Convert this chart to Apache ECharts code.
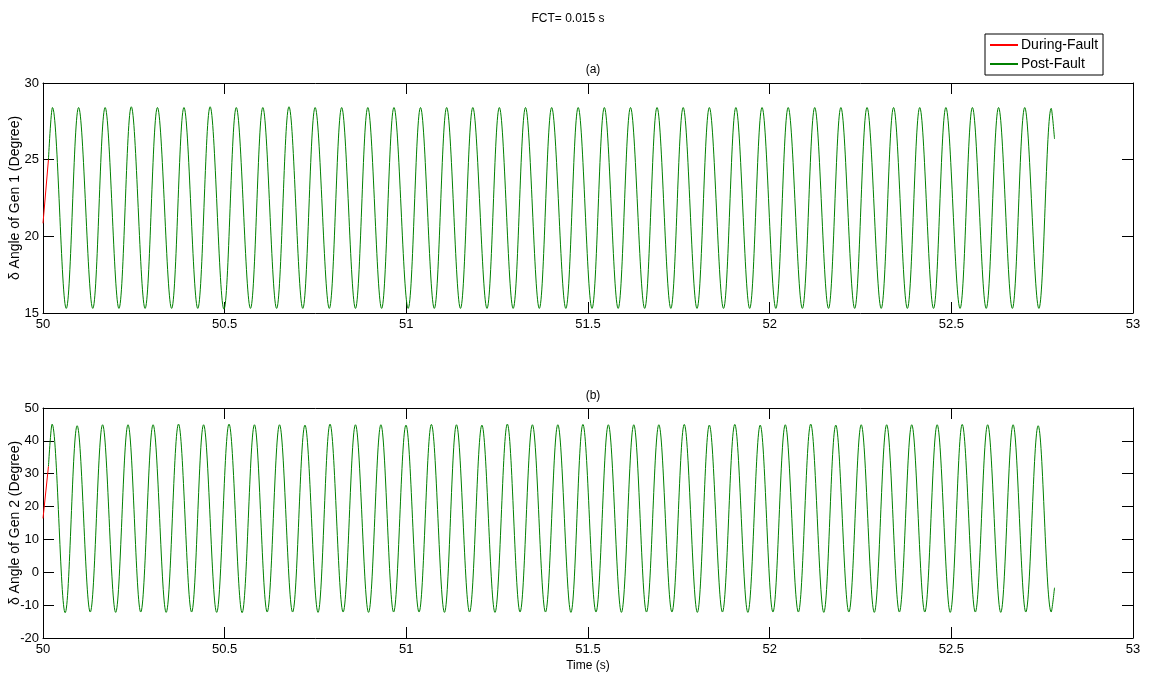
<!DOCTYPE html>
<html>
<head>
<meta charset="utf-8">
<script src="https://cdn.jsdelivr.net/npm/echarts@6/dist/echarts.min.js"></script>
<style>
html,body{margin:0;padding:0;background:#fff;}
#chart{width:1149px;height:680px;}
</style>
</head>
<body>
<div id="chart"></div>
<script>
// ---------- data ----------
var xTicks = [50, 50.5, 51, 51.5, 52, 52.5, 53];

// Gen 1, during fault
var gen1FaultT = [50.000, 50.015];
var gen1FaultV = [20.85, 25.0];
// Gen 1, post fault: start, peaks, troughs, end
var gen1PostStart = [50.015, 25.0];
var gen1PostEnd = [52.784, 26.35];
var gen1PeakT = [50.026,50.098,50.171,50.243,50.315,50.388,50.460,50.532,50.605,50.677,
  50.749,50.822,50.894,50.966,51.039,51.111,51.183,51.256,51.328,51.400,
  51.473,51.545,51.617,51.690,51.762,51.834,51.907,51.979,52.051,52.124,
  52.196,52.268,52.341,52.413,52.485,52.558,52.630,52.702,52.775];
var gen1PeakV = [28.4,28.4,28.4,28.45,28.4,28.4,28.45,28.4,28.4,28.45,
  28.4,28.4,28.4,28.4,28.4,28.4,28.4,28.4,28.4,28.4,
  28.4,28.4,28.4,28.4,28.4,28.4,28.4,28.4,28.4,28.4,
  28.4,28.4,28.4,28.4,28.4,28.4,28.4,28.4,28.35];
var gen1TroughT = [50.064,50.137,50.209,50.281,50.354,50.426,50.498,50.571,50.643,50.715,
  50.788,50.860,50.932,51.005,51.077,51.149,51.222,51.294,51.366,51.439,
  51.511,51.583,51.656,51.728,51.800,51.873,51.945,52.017,52.090,52.162,
  52.234,52.307,52.379,52.451,52.524,52.596,52.668,52.741];
var gen1TroughV = [15.3,15.3,15.3,15.3,15.3,15.3,15.25,15.3,15.3,15.3,
  15.3,15.3,15.3,15.3,15.3,15.3,15.3,15.3,15.3,15.3,
  15.3,15.3,15.3,15.3,15.3,15.3,15.3,15.3,15.3,15.3,
  15.3,15.3,15.3,15.3,15.3,15.3,15.3,15.3];

// Gen 2, during fault
var gen2FaultT = [50.000, 50.015];
var gen2FaultV = [16.4, 32.2];
// Gen 2, post fault
var gen2PostStart = [50.015, 32.2];
var gen2PostEnd = [52.784, -4.7];
var gen2PeakT = [50.025,50.094,50.164,50.234,50.303,50.373,50.442,50.512,50.582,50.651,
  50.721,50.790,50.860,50.930,50.999,51.069,51.138,51.208,51.278,51.347,
  51.417,51.486,51.556,51.626,51.695,51.765,51.834,51.904,51.974,52.043,
  52.113,52.182,52.252,52.322,52.391,52.461,52.530,52.600,52.670,52.739];
var gen2PeakV = [45.1,44.6,44.9,44.9,44.9,45.1,44.9,45.1,44.9,44.9,
  44.8,45.1,44.9,44.9,44.8,45.0,44.9,44.8,45.1,44.9,
  44.9,45.0,44.9,44.9,44.9,45.0,44.8,45.0,44.8,44.9,
  45.1,44.8,44.9,44.9,44.9,44.9,45.0,44.9,44.9,44.6];
var gen2TroughT = [50.061,50.130,50.200,50.269,50.339,50.409,50.478,50.548,50.617,50.687,
  50.757,50.826,50.896,50.965,51.035,51.105,51.174,51.244,51.313,51.383,
  51.453,51.522,51.592,51.661,51.731,51.801,51.870,51.940,52.009,52.079,
  52.149,52.218,52.288,52.357,52.427,52.497,52.566,52.636,52.705,52.775];
var gen2TroughV = [-12.3,-12.1,-12.2,-12.1,-12.2,-12.1,-12.2,-12.3,-12.1,-12.1,
  -12.2,-12.1,-12.2,-12.1,-12.1,-12.2,-12.1,-12.2,-12.1,-12.1,
  -12.2,-12.1,-12.2,-12.1,-12.1,-12.2,-12.1,-12.2,-12.1,-12.1,
  -12.2,-12.1,-12.2,-12.1,-12.1,-12.2,-12.1,-12.2,-12.1,-12.1];

// ---------- build series tables ----------
function pairs(t, v) { return t.map(function (x, i) { return [x, v[i]]; }); }
function postSeries(start, pt, pv, tt, tv, end) {
  var pts = pairs(pt, pv).concat(pairs(tt, tv));
  pts.sort(function (a, b) { return a[0] - b[0]; });
  return [start].concat(pts).concat([end]);
}
var gen1Post = postSeries(gen1PostStart, gen1PeakT, gen1PeakV, gen1TroughT, gen1TroughV, gen1PostEnd);
var gen2Post = postSeries(gen2PostStart, gen2PeakT, gen2PeakV, gen2TroughT, gen2TroughV, gen2PostEnd);

var FONT = 'Liberation Sans, Arial, sans-serif';
var RED = '#ff0000', GREEN = '#008000';

function xAx(grid, pos, withLabels, name) {
  return {
    type: 'value', gridIndex: grid, position: pos, min: 50, max: 53, interval: 0.5,
    axisLine: { show: true, onZero: false, lineStyle: { color: '#000', width: 1 } },
    axisTick: { show: true, inside: true, length: 11, lineStyle: { color: '#000' } },
    axisLabel: { show: withLabels, color: '#000', fontFamily: FONT, fontSize: 13, margin: 5,
      formatter: function (v) { return String(+v.toFixed(1)); } },
    splitLine: { show: false },
    name: name || '', nameLocation: 'middle', nameGap: 22, nameMoveOverlap: false,
    nameTextStyle: { color: '#000', fontFamily: FONT, fontSize: 12 }
  };
}
function yAx(grid, pos, withLabels, min, max, interval, name) {
  return {
    type: 'value', gridIndex: grid, position: pos, min: min, max: max, interval: interval,
    axisLine: { show: true, onZero: false, lineStyle: { color: '#000', width: 1 } },
    axisTick: { show: true, inside: true, length: 11, lineStyle: { color: '#000' } },
    axisLabel: { show: withLabels, color: '#000', fontFamily: FONT, fontSize: 13, margin: 4 },
    splitLine: { show: false },
    name: name || '', nameLocation: 'middle', nameGap: 21, nameMoveOverlap: false,
    nameTextStyle: { color: '#000', fontFamily: FONT, fontSize: 14 }
  };
}

var chart = echarts.init(document.getElementById('chart'), null, { renderer: 'canvas' });
chart.setOption({
  backgroundColor: '#fff',
  animation: false,
  title: [
    { text: 'FCT= 0.015 s', left: 563, top: 8, textAlign: 'center',
      textStyle: { fontFamily: FONT, fontSize: 12, fontWeight: 'normal', color: '#000' } },
    { text: '(a)', left: 588, top: 59, textAlign: 'center',
      textStyle: { fontFamily: FONT, fontSize: 12, fontWeight: 'normal', color: '#000' } },
    { text: '(b)', left: 588, top: 385, textAlign: 'center',
      textStyle: { fontFamily: FONT, fontSize: 12, fontWeight: 'normal', color: '#000' } }
  ],
  legend: {
    data: ['During-Fault', 'Post-Fault'],
    orient: 'vertical', left: 985, top: 34,
    backgroundColor: '#fff', borderColor: '#000', borderWidth: 1,
    padding: [4, 5, 4, 5], itemGap: 5, itemWidth: 28, itemHeight: 2,
    icon: 'rect',
    textStyle: { fontFamily: FONT, fontSize: 14, color: '#000', padding: [0, 0, 0, -2] }
  },
  grid: [
    { left: 43, right: 16, top: 83, height: 230, show: false, containLabel: false, outerBoundsMode: 'none' },
    { left: 43, right: 16, top: 408, height: 230, show: false, containLabel: false, outerBoundsMode: 'none' }
  ],
  xAxis: [
    xAx(0, 'bottom', true), xAx(0, 'top', false),
    xAx(1, 'bottom', true, 'Time (s)'), xAx(1, 'top', false)
  ],
  yAxis: [
    yAx(0, 'left', true, 15, 30, 5, '\u03b4 Angle of Gen 1 (Degree)'), yAx(0, 'right', false, 15, 30, 5),
    yAx(1, 'left', true, -20, 50, 10, '\u03b4 Angle of Gen 2 (Degree)'), yAx(1, 'right', false, -20, 50, 10)
  ],
  series: [
    { name: 'During-Fault', type: 'line', xAxisIndex: 0, yAxisIndex: 0, data: pairs(gen1FaultT, gen1FaultV),
      showSymbol: false, lineStyle: { color: RED, width: 1 }, itemStyle: { color: RED }, z: 3 },
    { name: 'Post-Fault', type: 'line', xAxisIndex: 0, yAxisIndex: 0, data: gen1Post, smooth: 0.36,
      showSymbol: false, lineStyle: { color: GREEN, width: 1 }, itemStyle: { color: GREEN }, z: 2 },
    { name: 'During-Fault', type: 'line', xAxisIndex: 2, yAxisIndex: 2, data: pairs(gen2FaultT, gen2FaultV),
      showSymbol: false, lineStyle: { color: RED, width: 1 }, itemStyle: { color: RED }, z: 3 },
    { name: 'Post-Fault', type: 'line', xAxisIndex: 2, yAxisIndex: 2, data: gen2Post, smooth: 0.36,
      showSymbol: false, lineStyle: { color: GREEN, width: 1 }, itemStyle: { color: GREEN }, z: 2 }
  ]
});
</script>
</body>
</html>
